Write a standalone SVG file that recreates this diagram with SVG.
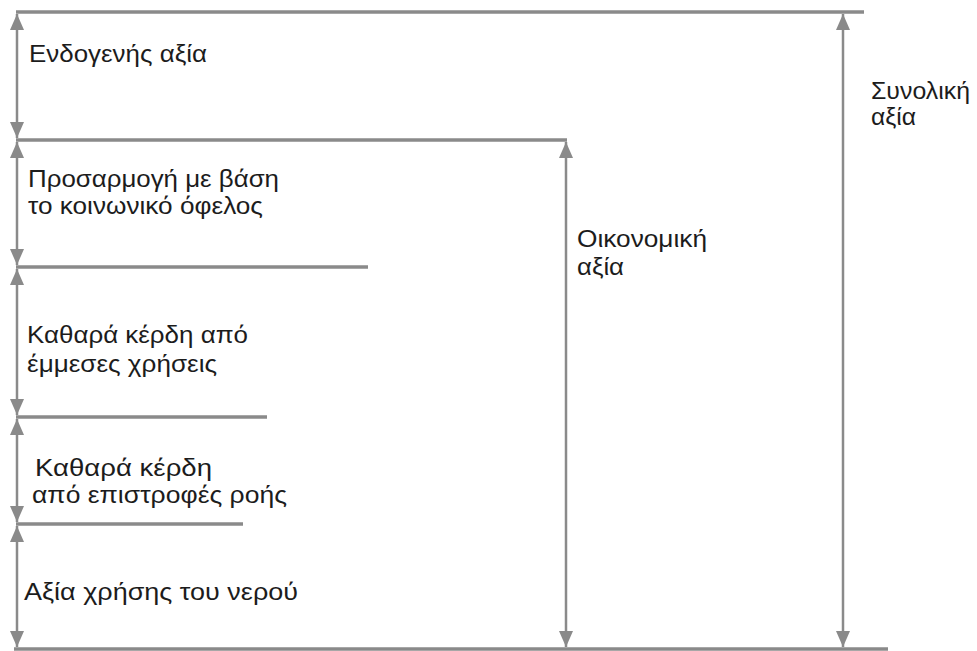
<svg xmlns="http://www.w3.org/2000/svg" width="977" height="651" viewBox="0 0 977 651">
  <style>
    .level { stroke: #8a8a8a; stroke-width: 3.5; fill: none; }
    .dim { stroke: #8a8a8a; stroke-width: 2.5; fill: none; marker-start: url(#head); marker-end: url(#head); }
    .label { font-family: "Liberation Sans", Arial, "Noto Sans", sans-serif; font-size: 24.5px; fill: #1c1c1c; }
  </style>
  <defs>
    <marker id="head" viewBox="0 0 16 14" refX="16" refY="7" markerWidth="16" markerHeight="14" markerUnits="userSpaceOnUse" orient="auto-start-reverse">
      <path d="M0,0 L16,7 L0,14 Z" fill="#8a8a8a"/>
    </marker>
  </defs>

  <rect width="977" height="651" fill="#ffffff"/>

  <!-- horizontal value levels -->
  <g id="levels">
    <line class="level" x1="16" y1="12" x2="864" y2="12"/>
    <line class="level" x1="16" y1="140" x2="567" y2="140"/>
    <line class="level" x1="16" y1="267" x2="368" y2="267"/>
    <line class="level" x1="16" y1="417" x2="267" y2="417"/>
    <line class="level" x1="16" y1="524" x2="243" y2="524"/>
    <line class="level" x1="14" y1="649" x2="888" y2="649"/>
  </g>

  <!-- dimension arrows -->
  <g id="connectors">
    <line class="dim" x1="17" y1="14" x2="17" y2="138"/>
    <line class="dim" x1="17" y1="142" x2="17" y2="265"/>
    <line class="dim" x1="17" y1="269" x2="17" y2="415"/>
    <line class="dim" x1="17" y1="419" x2="17" y2="522"/>
    <line class="dim" x1="17" y1="526" x2="17" y2="647"/>
    <line class="dim" x1="566" y1="142" x2="566" y2="647"/>
    <line class="dim" x1="843" y1="14" x2="843" y2="647"/>
  </g>

  <g id="intrinsic-value">
    <text class="label" x="29" y="62" textLength="178" lengthAdjust="spacingAndGlyphs">Ενδογενής αξία</text>
  </g>
  <g id="social-adjustment">
    <text class="label" x="28" y="187" textLength="251" lengthAdjust="spacingAndGlyphs">Προσαρμογή με βάση</text>
    <text class="label" x="28" y="214" textLength="235" lengthAdjust="spacingAndGlyphs">το κοινωνικό όφελος</text>
  </g>
  <g id="indirect-uses">
    <text class="label" x="27" y="343" textLength="221" lengthAdjust="spacingAndGlyphs">Καθαρά κέρδη από</text>
    <text class="label" x="27" y="372" textLength="190" lengthAdjust="spacingAndGlyphs">έμμεσες χρήσεις</text>
  </g>
  <g id="return-flows">
    <text class="label" x="35" y="476" textLength="177" lengthAdjust="spacingAndGlyphs">Καθαρά κέρδη</text>
    <text class="label" x="32" y="503" textLength="255" lengthAdjust="spacingAndGlyphs">από επιστροφές ροής</text>
  </g>
  <g id="water-use-value">
    <text class="label" x="24" y="600" textLength="274" lengthAdjust="spacingAndGlyphs">Αξία χρήσης του νερού</text>
  </g>
  <g id="economic-value">
    <text class="label" x="577" y="247" textLength="130" lengthAdjust="spacingAndGlyphs">Οικονομική</text>
    <text class="label" x="577" y="275" textLength="47" lengthAdjust="spacingAndGlyphs">αξία</text>
  </g>
  <g id="total-value">
    <text class="label" x="871" y="99" textLength="99" lengthAdjust="spacingAndGlyphs">Συνολική</text>
    <text class="label" x="871" y="125" textLength="45" lengthAdjust="spacingAndGlyphs">αξία</text>
  </g>
</svg>
